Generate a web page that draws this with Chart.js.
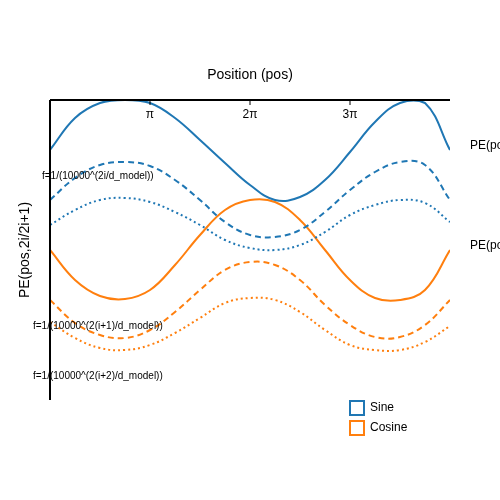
<!DOCTYPE html>
<html><head><meta charset="utf-8">
<script src="https://cdn.jsdelivr.net/npm/chart.js@4/dist/chart.umd.min.js"></script>
<style>body{margin:0;background:#fff}#c{width:500px;height:500px}</style>
</head><body><div id="c"><canvas id="cv" width="500" height="500"></canvas></div>
<script>
// position samples (0..4π, in pixel-ish units: 100 = π)
const positions = [0,25,50,75,100,125,150,175,200,225,250,275,300,325,350,375,400];
const tickValues = [100, 200, 300];
const tickLabels = ['π', '2π', '3π'];
// values (screen offset, 100 = top of plot)
const sin0 = [150,118,103,100,103,118,140,163,185,200,197,180,152,122,103,103,150];
const sin1 = [200,178,165,162,166,180,200,222,235,237,230,212,190,172,162,165,200];
const sin2 = [225,210,200,198,202,212,225,240,248,250,245,232,215,205,200,203,222];
const cos0 = [250,280,296,299,290,265,235,210,200,202,220,250,280,298,300,290,250];
const cos1 = [300,323,335,338,330,312,290,270,262,265,280,305,325,337,337,325,300];
const cos2 = [322,338,348,350,345,333,318,303,298,300,312,330,345,350,350,342,326];

const blue = '#1f77b4', orange = '#ff7f0e';
function ds(vals, color, dash) {
  return {data: positions.map((p, i) => ({x: p, y: vals[i]})), borderColor: color,
    borderWidth: 2, borderDash: dash, pointRadius: 0, tension: 0.4, fill: false};
}

const deco = {
  id: 'deco',
  afterDraw(chart) {
    const {ctx, scales: {x}, chartArea: a} = chart;
    ctx.save();
    ctx.strokeStyle = '#000'; ctx.lineWidth = 2;
    ctx.beginPath(); ctx.moveTo(a.left, a.top); ctx.lineTo(a.right, a.top); ctx.stroke();
    ctx.beginPath(); ctx.moveTo(a.left, a.top); ctx.lineTo(a.left, a.bottom); ctx.stroke();
    ctx.lineWidth = 1; ctx.fillStyle = '#000';
    ctx.font = '12px "Liberation Sans", Arial'; ctx.textAlign = 'center'; ctx.textBaseline = 'top';
    tickValues.forEach((v, i) => {
      const px = x.getPixelForValue(v);
      ctx.beginPath(); ctx.moveTo(px, a.top); ctx.lineTo(px, a.top + 5); ctx.stroke();
      ctx.fillText(tickLabels[i], px, a.top + 9);
    });
    ctx.font = '14px "Liberation Sans", Arial'; ctx.textBaseline = 'middle';
    ctx.fillText('Position (pos)', 250, 75);
    ctx.save(); ctx.translate(25, 250); ctx.rotate(-Math.PI / 2);
    ctx.fillText('PE(pos,2i/2i+1)', 0, 0); ctx.restore();
    ctx.textAlign = 'left'; ctx.font = '12px "Liberation Sans", Arial';
    ctx.fillText('PE(pos,2i)', 470, 146);
    ctx.fillText('PE(pos,2i+1)', 470, 246);
    ctx.font = '10px "Liberation Sans", Arial';
    ctx.fillText('f=1/(10000^(2i/d_model))', 42, 176);
    ctx.fillText('f=1/(10000^(2(i+1)/d_model))', 33, 326);
    ctx.fillText('f=1/(10000^(2(i+2)/d_model))', 33, 376);
    ctx.font = '12px "Liberation Sans", Arial';
    [['Sine', blue, 408], ['Cosine', orange, 428]].forEach(([t, c, y]) => {
      ctx.strokeStyle = c; ctx.lineWidth = 2;
      ctx.strokeRect(350, y - 7, 14, 14);
      ctx.fillStyle = '#000'; ctx.fillText(t, 370, y);
    });
    ctx.restore();
  }
};

new Chart(document.getElementById('cv'), {
  type: 'line',
  data: {datasets: [ds(sin0, blue, []), ds(sin1, blue, [6, 4]), ds(sin2, blue, [2, 3]),
    ds(cos0, orange, []), ds(cos1, orange, [6, 4]), ds(cos2, orange, [2, 3])]},
  options: {
    responsive: false, animation: false,
    layout: {padding: {left: 50, right: 50, top: 100, bottom: 100}},
    plugins: {legend: {display: false}, tooltip: {enabled: false}},
    scales: {
      x: {type: 'linear', min: 0, max: 400, display: false},
      y: {min: 100, max: 400, reverse: true, display: false}
    }
  },
  plugins: [deco]
});
</script></body></html>
